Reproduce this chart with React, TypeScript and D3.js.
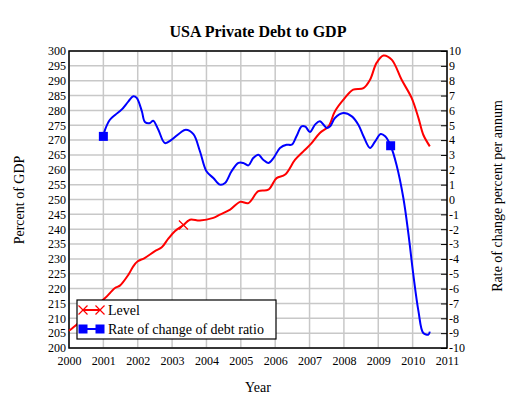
import { useEffect, useRef } from "react";
import * as d3 from "d3";

// Level of private debt, percent of GDP (left axis)
const levelYears = [
  2000.0, 2000.25, 2000.5, 2000.75, 2001.05, 2001.34, 2001.48, 2001.73, 2001.87, 2002.0,
  2002.2, 2002.5, 2002.7, 2002.89, 2003.08, 2003.33, 2003.52, 2003.81, 2004.2, 2004.39,
  2004.69, 2004.98, 2005.22, 2005.51, 2005.8, 2006.04, 2006.29, 2006.58, 2006.82, 2007.06,
  2007.3, 2007.55, 2007.74, 2008.03, 2008.27, 2008.57, 2008.76, 2008.95, 2009.15, 2009.39,
  2009.68, 2009.97, 2010.17, 2010.31, 2010.5,
];
const levelValues = [
  205.8, 208.2, 211, 213.8, 216.8, 220.2, 221, 224.7, 227.5, 229.2,
  230.3, 232.6, 233.9, 236.8, 239.3, 241.4, 243.2, 242.9, 243.8, 244.9,
  246.6, 249.2, 248.8, 252.8, 253.3, 257.2, 258.4, 263.4, 266.2, 269,
  272.4, 274.6, 279.7, 284.2, 287, 287.5, 290.3, 296, 298.5, 297.1,
  290.3, 284.2, 277.4, 271.8, 267.9,
];
const levelMarkerYears = [2003.33];

// Rate of change of debt ratio, percent per annum (right axis)
const rateYears = [
  2001.0, 2001.05, 2001.19, 2001.35, 2001.53, 2001.73, 2001.87, 2001.97, 2002.12, 2002.21,
  2002.36, 2002.45, 2002.6, 2002.79, 2002.99, 2003.23, 2003.4, 2003.62, 2003.81, 2004.0,
  2004.2, 2004.39, 2004.54, 2004.73, 2004.93, 2005.07, 2005.22, 2005.36, 2005.51, 2005.65,
  2005.8, 2005.95, 2006.14, 2006.33, 2006.48, 2006.62, 2006.77, 2006.88, 2007.01, 2007.16,
  2007.3, 2007.5, 2007.6, 2007.74, 2007.98, 2008.23, 2008.42, 2008.57, 2008.76, 2008.91,
  2009.07, 2009.2, 2009.36, 2009.53, 2009.73, 2009.88, 2010.02, 2010.17, 2010.31, 2010.46,
  2010.5,
];
const rateValues = [
  4.25, 4.7, 5.37, 5.71, 6.05, 6.61, 6.95, 6.84, 5.94, 5.22,
  5.15, 5.31, 4.7, 3.8, 4.03, 4.48, 4.7, 4.4, 3.25, 1.9,
  1.45, 1.0, 1.11, 1.9, 2.46, 2.46, 2.3, 2.79, 3.02, 2.68,
  2.46, 2.79, 3.47, 3.69, 3.69, 4.26, 4.93, 4.9, 4.55, 5.04,
  5.27, 4.82, 4.93, 5.49, 5.82, 5.6, 5.04, 4.26, 3.47, 3.92,
  4.41, 4.26, 3.62, 2.34, 0.1, -2.37, -5.06, -7.53, -8.99, -9.1,
  -8.9,
];
const rateMarkerYears = [2001.0, 2009.36];

const yearTicks = d3.range(2000, 2012, 1);
const levelTicks = d3.range(200, 301, 5);
const rateTicks = d3.range(-10, 11, 1);

const App = () => {
  const ref = useRef<SVGSVGElement>(null);

  useEffect(() => {
    const svg = d3.select(ref.current);
    const width = 508,
      height = 397,
      margin = { top: 51, right: 61, bottom: 49, left: 69 };
    const font = "'Liberation Serif', 'DejaVu Serif', serif";

    svg.selectAll("*").remove();
    svg.attr("width", width).attr("height", height);

    const x = d3
      .scaleLinear()
      .domain([2000, 2011])
      .range([margin.left, width - margin.right]);
    const yL = d3
      .scaleLinear()
      .domain([200, 300])
      .range([height - margin.bottom, margin.top]);
    const yR = d3
      .scaleLinear()
      .domain([-10, 10])
      .range([height - margin.bottom, margin.top]);

    /*** grid ***/
    const grid = svg.append("g").attr("stroke", "#c8c8c8").attr("stroke-width", 1.5);
    grid
      .selectAll(".gx")
      .data(yearTicks)
      .enter()
      .append("line")
      .attr("x1", (d) => x(d))
      .attr("x2", (d) => x(d))
      .attr("y1", margin.top)
      .attr("y2", height - margin.bottom);
    grid
      .selectAll(".gy")
      .data(levelTicks)
      .enter()
      .append("line")
      .attr("x1", margin.left)
      .attr("x2", width - margin.right)
      .attr("y1", (d) => yL(d))
      .attr("y2", (d) => yL(d));

    /*** frame ***/
    svg
      .append("rect")
      .attr("x", margin.left)
      .attr("y", margin.top)
      .attr("width", width - margin.left - margin.right)
      .attr("height", height - margin.top - margin.bottom)
      .attr("fill", "none")
      .attr("stroke", "#000")
      .attr("stroke-width", 1.5);

    /*** axes ***/
    const styleAxis = (g: any) => {
      g.select(".domain").remove();
      g.selectAll("text")
        .attr("fill", "#000")
        .style("font-family", font)
        .style("font-size", "12px");
    };

    svg
      .append("g")
      .attr("transform", `translate(${margin.left - 1},0)`)
      .call(d3.axisLeft(yL).tickValues(levelTicks).tickSize(0).tickPadding(2).tickFormat((d) => String(d)))
      .call(styleAxis);

    const rightAxis = svg
      .append("g")
      .attr("transform", `translate(${width - margin.right},0)`)
      .call(d3.axisRight(yR).tickValues(rateTicks).tickSize(-6).tickPadding(2).tickFormat((d) => String(d)))
      .call(styleAxis);
    rightAxis.selectAll("line").attr("stroke", "#000");
    rightAxis.selectAll("text").attr("x", 2);

    svg
      .append("g")
      .attr("transform", `translate(0,${height - margin.bottom})`)
      .call(d3.axisBottom(x).tickValues(yearTicks).tickSize(0).tickPadding(8).tickFormat((d) => String(d)))
      .call(styleAxis);

    /*** titles ***/
    svg
      .append("text")
      .attr("x", (margin.left + width - margin.right) / 2)
      .attr("y", 37)
      .attr("text-anchor", "middle")
      .style("font-family", font)
      .style("font-size", "16px")
      .style("font-weight", "bold")
      .text("USA Private Debt to GDP");

    svg
      .append("text")
      .attr("x", (margin.left + width - margin.right) / 2)
      .attr("y", 392)
      .attr("text-anchor", "middle")
      .style("font-family", font)
      .style("font-size", "14px")
      .text("Year");

    svg
      .append("text")
      .attr("transform", `translate(24,200) rotate(-90)`)
      .attr("text-anchor", "middle")
      .style("font-family", font)
      .style("font-size", "14px")
      .text("Percent of GDP");

    svg
      .append("text")
      .attr("transform", `translate(502,196) rotate(-90)`)
      .attr("text-anchor", "middle")
      .style("font-family", font)
      .style("font-size", "14px")
      .text("Rate of change percent per annum");

    /*** lines ***/
    const levelData = levelYears.map((yr, i) => ({ yr, v: levelValues[i] }));
    const rateData = rateYears.map((yr, i) => ({ yr, v: rateValues[i] }));

    const levelLine = d3
      .line<{ yr: number; v: number }>()
      .x((d) => x(d.yr))
      .y((d) => yL(d.v))
      .curve(d3.curveCatmullRom);
    const rateLine = d3
      .line<{ yr: number; v: number }>()
      .x((d) => x(d.yr))
      .y((d) => yR(d.v))
      .curve(d3.curveCatmullRom);

    svg
      .append("path")
      .datum(levelData)
      .attr("fill", "none")
      .attr("stroke", "#ff0000")
      .attr("stroke-width", 2)
      .attr("d", levelLine);

    svg
      .append("path")
      .datum(rateData)
      .attr("fill", "none")
      .attr("stroke", "#0000ff")
      .attr("stroke-width", 2)
      .attr("d", rateLine);

    /*** markers ***/
    const cross = (g: any, cx: number, cy: number) => {
      const s = 4.5;
      g.append("path")
        .attr("d", `M${cx - s},${cy - s}L${cx + s},${cy + s}M${cx - s},${cy + s}L${cx + s},${cy - s}`)
        .attr("stroke", "#ff0000")
        .attr("stroke-width", 1.2)
        .attr("fill", "none");
    };
    const square = (g: any, cx: number, cy: number) => {
      g.append("rect")
        .attr("x", cx - 4.5)
        .attr("y", cy - 4.5)
        .attr("width", 9)
        .attr("height", 9)
        .attr("fill", "#0000ff");
    };

    levelMarkerYears.forEach((yr) => {
      const d = levelData.find((p) => p.yr === yr)!;
      cross(svg, x(d.yr), yL(d.v));
    });
    rateMarkerYears.forEach((yr) => {
      const d = rateData.find((p) => p.yr === yr)!;
      square(svg, x(d.yr), yR(d.v));
    });

    /*** legend ***/
    const lg = svg.append("g").attr("transform", "translate(77,300)");
    lg.append("rect")
      .attr("width", 199)
      .attr("height", 39)
      .attr("fill", "#fff")
      .attr("stroke", "#000")
      .attr("stroke-width", 1.2);

    const items = [
      { label: "Level", color: "#ff0000", y: 10, marker: cross },
      { label: "Rate of change of debt ratio", color: "#0000ff", y: 29, marker: square },
    ];
    items.forEach((it) => {
      lg.append("line")
        .attr("x1", 5)
        .attr("x2", 24)
        .attr("y1", it.y)
        .attr("y2", it.y)
        .attr("stroke", it.color)
        .attr("stroke-width", 2);
      it.marker(lg, 6, it.y);
      it.marker(lg, 23, it.y);
      lg.append("text")
        .attr("x", 31)
        .attr("y", it.y + 5)
        .style("font-family", font)
        .style("font-size", "14px")
        .text(it.label);
    });
  }, []);

  return (
    <svg
      ref={ref}
      style={{ position: "absolute", left: 0, top: 0, background: "#fff" }}
    />
  );
};

export default App;
